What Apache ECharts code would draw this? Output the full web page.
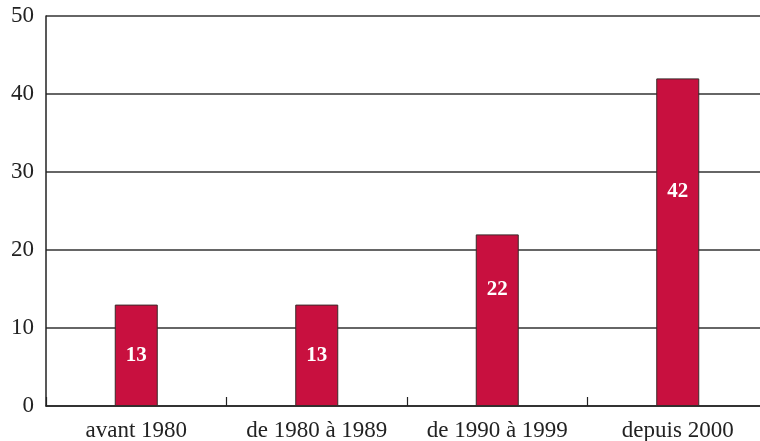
<!DOCTYPE html>
<html lang="fr">
<head>
    <meta charset="UTF-8">
    <title>Répartition par période</title>
    <script src="https://cdn.jsdelivr.net/npm/echarts@6/dist/echarts.min.js"></script>
    <style>
        html, body { margin: 0; padding: 0; background: #fff; }
        #main { width: 760px; height: 441px; }
    </style>
</head>
<body>
<div id="main"></div>
<script>
// données du graphique
var periodes = ['avant 1980', 'de 1980 à 1989', 'de 1990 à 1999', 'depuis 2000'];
var valeurs = [13, 13, 22, 42];
var yTicks = [0, 10, 20, 30, 40, 50];

// décalage vertical des étiquettes depuis le haut de la barre (px)
var labelTop = [51, 51, 55, 113];

var serif = '"Liberation Serif", "DejaVu Serif", serif';
var myChart = echarts.init(document.getElementById('main'));

var option = {
    animation: false,
    grid: { left: 46, width: 722, top: 16, height: 390, outerBoundsMode: 'none', containLabel: false },
    xAxis: {
        type: 'category',
        data: periodes,
        axisLine: { lineStyle: { color: '#222', width: 1.5 } },
        axisTick: { show: true, interval: 0, inside: true, length: 9, lineStyle: { color: '#222', width: 1.2 } },
        axisLabel: { interval: 0, hideOverlap: false, color: '#222', fontFamily: serif, fontSize: 23, margin: 13 }
    },
    yAxis: {
        type: 'value',
        min: yTicks[0],
        max: yTicks[yTicks.length - 1],
        interval: 10,
        axisLine: { show: true, lineStyle: { color: '#222', width: 1.5 } },
        axisTick: { show: false },
        splitLine: { lineStyle: { color: '#333', width: 1.5 } },
        axisLabel: { color: '#222', fontFamily: serif, fontSize: 23, margin: 12 }
    },
    series: [{
        type: 'bar',
        barWidth: 43,
        data: valeurs.map(function (v, i) {
            return {
                value: v,
                label: { position: ['50%', labelTop[i]] }
            };
        }),
        itemStyle: { color: '#C8103F', borderColor: '#3a2a2a', borderWidth: 1 },
        label: {
            show: true,
            color: '#fff',
            fontFamily: serif,
            fontWeight: 'bold',
            fontSize: 21,
            align: 'center',
            verticalAlign: 'middle'
        }
    }]
};

myChart.setOption(option);
</script>
</body>
</html>
